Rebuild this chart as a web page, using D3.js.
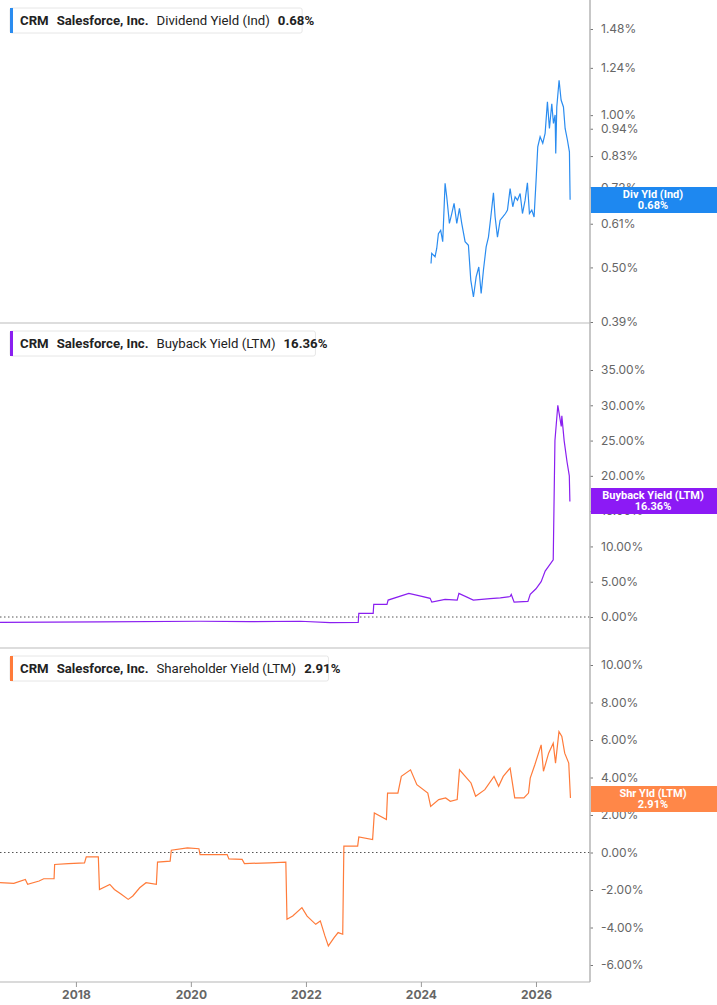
<!DOCTYPE html>
<html><head><meta charset="utf-8">
<script src="https://cdn.jsdelivr.net/npm/d3@7/dist/d3.min.js"></script>
<style>body{margin:0;background:#fff;font-family:Roboto,"Noto Sans",sans-serif}</style>
</head><body>
<svg id="c" width="717" height="1005"></svg>
<script>
const yearTicks = [2018, 2020, 2022, 2024, 2026];
const divTicks = [0.39, 0.50, 0.61, 0.72, 0.83, 0.94, 1.00, 1.24, 1.48];
const buyTicks = [0, 5, 10, 15, 20, 25, 30, 35];
const shrTicks = [-6, -4, -2, 0, 2, 4, 6, 8, 10];

const divDates = [2024.176,2024.188,2024.246,2024.275,2024.304,2024.344,2024.379,2024.420,2024.449,2024.495,2024.536,2024.576,2024.623,2024.669,2024.709,2024.767,2024.825,2024.866,2024.912,2024.959,2025.005,2025.046,2025.086,2025.133,2025.173,2025.214,2025.260,2025.289,2025.330,2025.376,2025.423,2025.469,2025.504,2025.550,2025.596,2025.637,2025.678,2025.724,2025.765,2025.811,2025.851,2025.886,2025.927,2025.967,2026.002,2026.031,2026.072,2026.118,2026.159,2026.199,2026.234,2026.275,2026.304,2026.333,2026.344,2026.362,2026.402,2026.437,2026.478,2026.507,2026.547,2026.582,2026.594];
const divValues = [0.509,0.533,0.525,0.545,0.583,0.592,0.562,0.733,0.689,0.611,0.639,0.669,0.611,0.654,0.611,0.562,0.553,0.472,0.437,0.479,0.501,0.444,0.494,0.549,0.574,0.629,0.702,0.629,0.574,0.620,0.629,0.639,0.649,0.716,0.659,0.689,0.679,0.700,0.639,0.679,0.735,0.639,0.649,0.629,0.744,0.866,0.906,0.880,0.920,1.062,0.941,1.053,0.963,1.001,0.840,1.038,1.172,1.071,1.038,0.941,0.893,0.846,0.680];

const buyDates = [2016.68,2018.42,2020.16,2021.03,2021.90,2022.42,2022.91,2022.92,2023.17,2023.18,2023.41,2023.43,2023.79,2023.98,2024.16,2024.19,2024.42,2024.63,2024.66,2024.91,2025.20,2025.38,2025.55,2025.57,2025.62,2025.86,2025.90,2026.00,2026.09,2026.16,2026.30,2026.33,2026.38,2026.44,2026.45,2026.49,2026.54,2026.58,2026.59];
const buyValues = [-0.75,-0.7,-0.6,-0.65,-0.6,-0.8,-0.75,0.5,0.5,1.8,1.8,2.4,3.35,3.0,2.65,2.1,2.5,2.4,3.35,2.4,2.6,2.7,2.9,3.2,2.1,2.2,3.2,4.0,5.0,6.5,8.1,25,30,27,28.5,25,22,20,16.36];

const shrDates = [2016.68,2016.92,2017.12,2017.16,2017.36,2017.44,2017.62,2017.63,2017.87,2018.15,2018.18,2018.39,2018.41,2018.59,2018.67,2018.79,2018.91,2018.99,2019.11,2019.22,2019.40,2019.42,2019.64,2019.66,2019.94,2020.14,2020.16,2020.63,2020.66,2020.89,2020.93,2021.37,2021.65,2021.67,2021.77,2021.93,2022.02,2022.17,2022.25,2022.33,2022.39,2022.49,2022.56,2022.64,2022.66,2022.90,2022.92,2023.16,2023.19,2023.40,2023.42,2023.60,2023.66,2023.82,2023.93,2024.12,2024.17,2024.31,2024.43,2024.51,2024.63,2024.67,2024.87,2024.95,2025.11,2025.27,2025.35,2025.43,2025.55,2025.63,2025.79,2025.87,2025.90,2025.98,2026.09,2026.13,2026.22,2026.30,2026.34,2026.40,2026.45,2026.50,2026.57,2026.60];
const shrValues = [-1.61,-1.65,-1.44,-1.70,-1.52,-1.40,-1.40,-0.64,-0.59,-0.55,-0.23,-0.23,-1.97,-1.70,-1.97,-2.23,-2.50,-2.32,-1.88,-1.61,-1.70,-0.51,-0.46,0.12,0.25,0.20,-0.11,-0.11,-0.34,-0.37,-0.59,-0.55,-0.51,-3.56,-3.39,-2.94,-3.39,-3.83,-3.65,-4.45,-4.98,-4.54,-4.27,-4.36,0.34,0.34,0.83,0.69,2.11,1.76,3.17,3.17,4.06,4.41,3.62,3.17,2.46,2.82,2.91,2.73,2.82,4.41,3.71,3.00,3.35,4.06,3.53,4.06,4.50,2.91,2.91,3.17,3.97,4.68,5.74,4.33,5.30,5.83,4.77,6.45,6.19,5.30,4.77,2.91];

const svg = d3.select("#c");
const AX = 590;
const toDate = y => { const yr = Math.floor(y); const s = new Date(yr,0,1), e = new Date(yr+1,0,1); return new Date(+s + (y-yr)*(e-s)); };
const x = d3.scaleTime().domain([toDate(2016.68), toDate(2026.94)]).range([0, AX]);

const panels = [
  {top:0, bot:323, scale:d3.scaleLog().domain([0.39,1.48]).range([322,29]), ticks:divTicks, fmt:d=>d.toFixed(2)+"%",
   dates:divDates, vals:divValues, color:"#2a8cf0", box:"#1e88f0", name:"Dividend Yield (Ind)", val:"0.68%", lab:"Div Yld (Ind)", ly:187, zero:false},
  {top:323, bot:648, scale:d3.scaleLinear().domain([0,35]).range([617,370]), ticks:buyTicks, fmt:d=>d.toFixed(2)+"%",
   dates:buyDates, vals:buyValues, color:"#8a1ff0", box:"#8c1af5", name:"Buyback Yield (LTM)", val:"16.36%", lab:"Buyback Yield (LTM)", ly:488, zero:true},
  {top:648, bot:982, scale:d3.scaleLinear().domain([-6,10]).range([965,665]), ticks:shrTicks, fmt:d=>d.toFixed(2)+"%",
   dates:shrDates, vals:shrValues, color:"#ff7b3a", box:"#ff8748", name:"Shareholder Yield (LTM)", val:"2.91%", lab:"Shr Yld (LTM)", ly:786, zero:true}
];

panels.forEach(p => {
  const axis = d3.axisRight(p.scale).tickValues(p.ticks).tickFormat(p.fmt).tickSize(3).tickPadding(8);
  const g = svg.append("g").attr("transform",`translate(${AX},0)`).call(axis);
  g.select(".domain").remove();
  g.selectAll("line").attr("stroke","#777");
  g.selectAll("text").attr("fill","#666").attr("font-size",12).attr("font-family","Inter,Roboto,sans-serif");
  if (p.zero) svg.append("line").attr("x1",0).attr("x2",AX).attr("y1",p.scale(0)).attr("y2",p.scale(0))
    .attr("stroke","#555").attr("stroke-dasharray","1.5,2.5");
  const data = p.dates.map((d,i)=>[toDate(d), p.vals[i]]);
  svg.append("path").datum(data).attr("fill","none").attr("stroke",p.color).attr("stroke-width",1.2)
    .attr("d", d3.line().x(d=>x(d[0])).y(d=>p.scale(d[1])));
  if (p.bot < 982) svg.append("line").attr("x1",0).attr("x2",AX).attr("y1",p.bot).attr("y2",p.bot).attr("stroke","#bbb");
  svg.append("rect").attr("x",AX+1).attr("y",p.ly).attr("width",717-AX).attr("height",26).attr("fill",p.box);
  svg.append("text").attr("x",653).attr("y",p.ly+11).attr("text-anchor","middle").attr("fill","#fff")
    .attr("font-size",11).attr("font-weight","bold").text(p.lab);
  svg.append("text").attr("x",653).attr("y",p.ly+22).attr("text-anchor","middle").attr("fill","#fff")
    .attr("font-size",11).attr("font-weight","bold").text(p.val);
  const lg = svg.append("g").attr("transform",`translate(10,${p.top+8})`);
  const t = lg.append("text").attr("x",10).attr("y",17).attr("font-size",13.2).attr("fill","#222");
  t.append("tspan").attr("font-weight","bold").text("CRM");
  t.append("tspan").attr("dx",8).attr("font-weight","bold").text("Salesforce, Inc.");
  t.append("tspan").attr("dx",8).text(p.name);
  t.append("tspan").attr("dx",8).attr("font-weight","bold").text(p.val);
  const w = t.node().getComputedTextLength();
  lg.insert("rect","text").attr("x",0).attr("y",0).attr("width",w+22).attr("height",25).attr("rx",2)
    .attr("fill","#fff").attr("stroke","#e6e6e6");
  lg.append("rect").attr("x",0).attr("y",0).attr("width",3).attr("height",25).attr("fill",p.color);
});

svg.append("line").attr("x1",AX).attr("x2",AX).attr("y1",0).attr("y2",982).attr("stroke","#b5b5b5").attr("stroke-width",1.5);
const xa = svg.append("g").attr("transform","translate(0,982)")
  .call(d3.axisBottom(x).tickValues(yearTicks.map(y=>new Date(y,0,1))).tickFormat(d3.timeFormat("%Y")).tickSize(5).tickSizeOuter(0));
xa.select(".domain").attr("stroke","#b5b5b5").attr("d",`M0,0H${AX}`);
xa.selectAll("line").attr("stroke","#999");
xa.selectAll("text").attr("fill","#666").attr("font-size",12).attr("font-weight","bold").attr("font-family","Inter,Roboto,sans-serif");
</script>
</body></html>
